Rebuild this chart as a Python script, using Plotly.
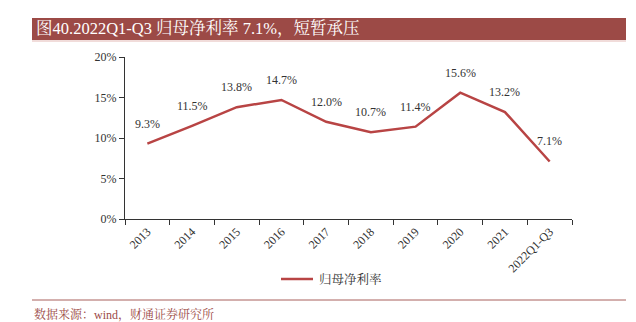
import plotly.graph_objects as go

categories = ["2013", "2014", "2015", "2016", "2017", "2018", "2019", "2020", "2021", "2022Q1-Q3"]
values = [9.3, 11.5, 13.8, 14.7, 12.0, 10.7, 11.4, 15.6, 13.2, 7.1]
y_ticks = [0, 5, 10, 15, 20]
y_tick_labels = ["0%", "5%", "10%", "15%", "20%"]
series_name = "归母净利率"
title_text = "图40.2022Q1-Q3 归母净利率 7.1%，短暂承压"
source_text = "数据来源：wind，财通证券研究所"

LINE = "#B84444"
BAR = "#9C4A46"
SERIF = "Times New Roman, Liberation Serif, Noto Serif CJK SC, Noto Sans CJK SC, serif"

L, R, T, B = 125, 572, 57, 219
W, H = R - L, B - T


def px(x):
    return (x - L) / W


def py(y):
    return (B - y) / H


fig = go.Figure()
fig.add_trace(go.Scatter(
    x=categories, y=values, mode="lines", name=series_name,
    line=dict(color=LINE, width=2.5), showlegend=False,
))

annotations = [
    dict(x=i, y=v, xref="x", yref="y", text=f"{v:.1f}%", showarrow=False,
         yshift=20, font=dict(family=SERIF, size=12, color="#333333"))
    for i, v in enumerate(values)
]
annotations += [
    dict(text=title_text, xref="paper", yref="paper", x=px(34), y=py(29),
         xanchor="left", yanchor="middle", showarrow=False,
         font=dict(family=SERIF, size=16.5, color="white")),
    dict(text=source_text, xref="paper", yref="paper", x=px(32), y=py(314),
         xanchor="left", yanchor="middle", showarrow=False,
         font=dict(family=SERIF, size=12, color="#9C4A46")),
    dict(text=series_name, xref="paper", yref="paper", x=px(317), y=py(279),
         xanchor="left", yanchor="middle", showarrow=False,
         font=dict(family=SERIF, size=12.5, color="#333333")),
]

fig.update_layout(
    width=636, height=322,
    margin=dict(l=L, r=636 - R, t=T, b=322 - B),
    paper_bgcolor="white", plot_bgcolor="white",
    showlegend=False,
    font=dict(family=SERIF, size=12, color="#333333"),
    xaxis=dict(
        type="category", categoryorder="array", categoryarray=categories,
        range=[-0.5, len(categories) - 0.5],
        tickangle=-45, tickson="boundaries",
        showline=True, linecolor="#333333", linewidth=1,
        ticks="outside", ticklen=5, tickcolor="#333333",
        showgrid=False, automargin=False,
        tickfont=dict(family=SERIF, size=12, color="#333333"),
    ),
    yaxis=dict(
        range=[0, 20], tickvals=y_ticks, ticktext=y_tick_labels,
        showline=True, linecolor="#333333", linewidth=1,
        ticks="outside", ticklen=5, tickcolor="#333333",
        showgrid=False, zeroline=False, automargin=False,
        tickfont=dict(family=SERIF, size=12, color="#333333"),
    ),
    shapes=[
        dict(type="rect", xref="paper", yref="paper", layer="below",
             x0=px(32), x1=px(626), y0=py(18), y1=py(40),
             fillcolor=BAR, line=dict(width=0)),
        dict(type="line", xref="paper", yref="paper",
             x0=px(32), x1=px(626), y0=py(41), y1=py(41),
             line=dict(color="#E3B9B5", width=1)),
        dict(type="line", xref="paper", yref="paper",
             x0=px(32), x1=px(626), y0=py(300), y1=py(300),
             line=dict(color="#A8605C", width=1)),
        dict(type="line", xref="paper", yref="paper",
             x0=px(281), x1=px(313), y0=py(279), y1=py(279),
             line=dict(color=LINE, width=2.5)),
    ],
    annotations=annotations,
)

fig.write_html("out.html")
